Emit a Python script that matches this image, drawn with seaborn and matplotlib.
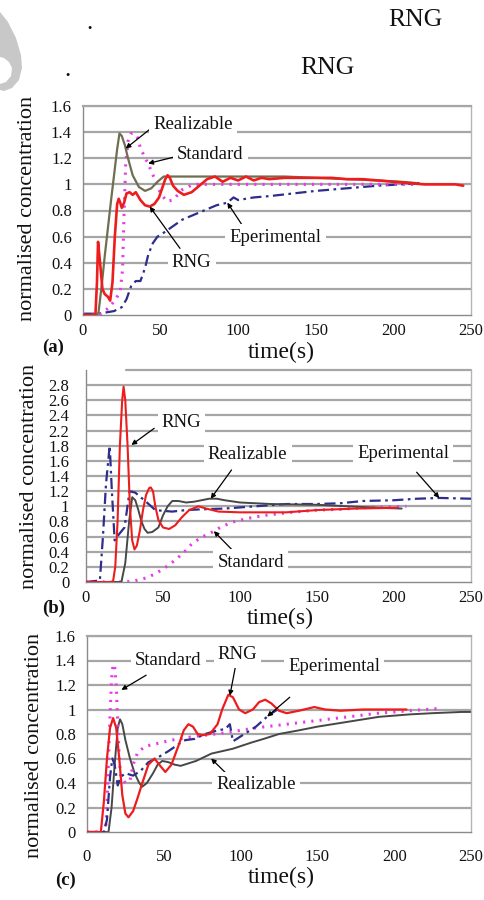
import numpy as np
import matplotlib
matplotlib.use("Agg")
import matplotlib.pyplot as plt
import seaborn as sns
from matplotlib.patches import Polygon

# ---------------------------------------------------------------- data
# (a) normalised concentration vs time (s)
a_rng_t = [0, 8, 9, 9.7, 11, 12.5, 14, 16, 17.5, 19, 20.5, 22, 23, 24, 25, 26.5, 28, 30, 32, 34,
           37, 40, 43, 46, 49, 51, 53, 54.5, 56, 58, 61, 65, 70, 75, 80, 85, 90, 95, 100, 105,
           110, 115, 120, 130, 140, 150, 160, 170, 180, 190, 200, 210, 220, 230, 240, 245]
a_rng_v = [0, 0, 0.25, 0.56, 0.4, 0.2, 0.16, 0.14, 0.11, 0.25, 0.6, 0.85, 0.89, 0.86, 0.82, 0.86, 0.93, 0.94, 0.92, 0.94,
           0.88, 0.84, 0.83, 0.85, 0.9, 0.97, 1.04, 1.07, 1.05, 0.99, 0.95, 0.92, 0.94, 0.99, 1.04, 1.06, 1.02, 1.05, 1.03, 1.06,
           1.03, 1.05, 1.04, 1.05, 1.05, 1.05, 1.05, 1.04, 1.04, 1.03, 1.02, 1.01, 1.0, 1.0, 1.0, 0.99]
a_real_t = [0, 9, 10, 12, 14, 16, 18, 20, 22, 23.5, 25, 27, 29, 32, 36, 40, 44, 48, 52, 56,
            70, 100, 130, 150, 170, 190, 205, 215]
a_real_v = [0, 0, 0.02, 0.22, 0.45, 0.66, 0.87, 1.07, 1.27, 1.39, 1.37, 1.3, 1.2, 1.07, 0.98, 0.95, 0.97, 1.02, 1.06, 1.06,
            1.06, 1.06, 1.06, 1.05, 1.04, 1.03, 1.02, 1.01]
a_std_t = [0, 10, 13, 17, 21, 24, 25.5, 26.5, 27.5, 29, 31, 33, 35, 37, 40, 42, 44, 47, 50, 54,
           58, 64, 71, 100, 150, 200, 215]
a_std_v = [0, 0, 0.02, 0.06, 0.12, 0.18, 0.35, 0.8, 1.15, 1.33, 1.39, 1.39, 1.36, 1.28, 1.2, 1.16, 1.1, 1.02, 0.93, 0.87,
           0.88, 0.96, 1.0, 1.0, 1.0, 1.0, 1.0]
a_exp_t = [0, 10, 15, 20, 25, 28, 31, 34, 37, 40, 42, 45, 48, 52, 58, 64, 70, 78, 86, 93,
           95, 97, 100, 110, 120, 135, 150, 170, 190, 205, 218]
a_exp_v = [0.01, 0.01, 0.02, 0.03, 0.06, 0.12, 0.22, 0.26, 0.26, 0.36, 0.46, 0.55, 0.6, 0.63, 0.68, 0.73, 0.76, 0.8, 0.84, 0.86,
           0.88, 0.9, 0.88, 0.9, 0.91, 0.93, 0.95, 0.97, 0.99, 1.0, 1.01]

# (b)
b_rng_t = [0, 17.5, 19, 20.5, 22, 23.5, 24.4, 25.5, 27, 28.5, 30, 31.5, 33, 35, 37, 39, 41, 42, 43.5, 45,
           47, 50, 54, 58, 62, 67, 73, 78, 86, 100, 115, 130, 150, 175, 202]
b_rng_v = [0, 0, 0.2, 0.8, 1.8, 2.6, 2.78, 2.6, 1.8, 1.0, 0.55, 0.43, 0.48, 0.68, 0.95, 1.15, 1.24, 1.25, 1.2, 1.0,
           0.82, 0.72, 0.7, 0.75, 0.85, 0.95, 1.0, 0.97, 0.93, 0.92, 0.92, 0.92, 0.95, 0.97, 0.98]
b_real_t = [0, 23, 25.5, 28, 30, 32, 34, 36, 38, 40, 43, 47, 50, 53, 56, 60, 65, 70, 75, 80,
            85, 90, 100, 120, 150, 170, 190, 205]
b_real_v = [0, 0, 0.25, 0.8, 1.12, 1.08, 0.95, 0.8, 0.7, 0.65, 0.66, 0.72, 0.88, 1.0, 1.07, 1.07, 1.05, 1.06, 1.08, 1.1,
            1.1, 1.08, 1.05, 1.03, 1.02, 1.0, 0.98, 0.97]
b_std_t = [0, 25, 30, 35, 40, 45, 50, 58, 64, 69, 75, 82, 88, 95, 105, 116, 133, 150, 165, 180, 195, 208]
b_std_v = [0, 0, 0.01, 0.03, 0.06, 0.11, 0.17, 0.29, 0.4, 0.51, 0.59, 0.66, 0.73, 0.79, 0.84, 0.88, 0.92, 0.95, 0.96, 0.98,
           0.99, 1.0]
b_exp_t = [0, 9, 11, 13, 15.4, 16.8, 18.6, 21, 25, 28.3, 32, 39, 45, 50, 56, 65, 75, 90, 110, 130,
           150, 165, 180, 200, 215, 230, 250]
b_exp_v = [0, 0.02, 0.6, 1.3, 1.8, 1.2, 0.55, 0.62, 0.72, 1.2, 1.18, 1.06, 0.95, 0.94, 0.93, 0.95, 0.96, 0.97, 1.0, 1.03,
           1.03, 1.04, 1.07, 1.08, 1.1, 1.11, 1.1]

# (c)
c_rng_t = [0, 9, 11, 13, 15, 17, 19, 21, 23, 25, 27, 30, 33, 36, 40, 44, 47, 51, 55, 60,
           63, 66, 69, 72, 75, 80, 85, 88, 92, 95, 99, 103, 108, 112, 116, 120, 125, 130, 138, 148,
           155, 165, 180, 195, 208]
c_rng_v = [0, 0, 0.25, 0.6, 0.85, 0.93, 0.85, 0.6, 0.3, 0.15, 0.12, 0.17, 0.28, 0.4, 0.55, 0.6, 0.55, 0.49, 0.55, 0.72,
           0.83, 0.88, 0.86, 0.8, 0.79, 0.8, 0.88, 1.0, 1.12, 1.1, 1.0, 0.97, 1.0, 1.06, 1.08, 1.05, 0.99, 0.97, 0.99, 1.02,
           1.0, 0.99, 1.0, 1.0, 1.0]
c_real_t = [0, 14, 16, 18, 20, 21.5, 23, 25, 28, 31, 34, 36, 39, 43, 46, 49, 53, 57, 61, 66,
            71, 76, 81, 88, 95, 107, 115, 125, 138, 150, 160, 170, 180, 190, 200, 210, 225, 244, 250]
c_real_v = [0, 0, 0.2, 0.55, 0.85, 0.92, 0.88, 0.75, 0.6, 0.48, 0.4, 0.37, 0.4, 0.48, 0.55, 0.58, 0.57, 0.55, 0.54, 0.56,
            0.58, 0.61, 0.64, 0.66, 0.68, 0.73, 0.76, 0.8, 0.83, 0.86, 0.88, 0.9, 0.92, 0.94, 0.95, 0.96, 0.97, 0.98, 0.98]
c_std_t = [0, 12, 13, 14, 15, 16, 17, 18, 19, 20, 21, 22, 25, 28, 30, 33, 38, 45, 55, 70,
           90, 110, 130, 150, 170, 190, 210, 231]
c_std_v = [0, 0, 0.2, 0.6, 0.95, 1.25, 1.37, 1.35, 1.2, 0.9, 0.6, 0.45, 0.4, 0.42, 0.55, 0.65, 0.7, 0.72, 0.75, 0.78,
           0.81, 0.85, 0.88, 0.91, 0.94, 0.97, 0.99, 1.01]
c_exp_t = [0, 11, 13, 15, 16.5, 18, 20, 22, 25, 30, 35, 40, 45, 53, 60, 64, 70, 77, 85, 90,
           93, 95, 100, 110, 118, 124]
c_exp_v = [0, 0, 0.1, 0.45, 0.6, 0.55, 0.38, 0.45, 0.48, 0.46, 0.5, 0.57, 0.6, 0.66, 0.72, 0.75, 0.76, 0.8, 0.83, 0.84,
           0.88, 0.74, 0.78, 0.86, 0.95, 1.0]

x_ticks = [0, 50, 100, 150, 200, 250]
y_ticks_ac = [0, 0.2, 0.4, 0.6, 0.8, 1.0, 1.2, 1.4, 1.6]
y_labels_ac = ['0', '0.2', '0.4', '0.6', '0.8', '1', '1.2', '1.4', '1.6']
y_ticks_b = [0, 0.2, 0.4, 0.6, 0.8, 1.0, 1.2, 1.4, 1.6, 1.8, 2.2, 2.4, 2.6, 2.8]
y_labels_b = ['0', '0.2', '0.4', '0.6', '0.8', '1', '1.2', '1.4', '1.6', '1.8', '2.2', '2.4', '2.6', '2.8']

# ---------------------------------------------------------------- styling
sns.set_theme(style="white")
plt.rcParams['font.family'] = ['Liberation Serif', 'DejaVu Serif']

RED = '#ee1d1d'
OLIVE = '#6e6e50'
DARK = '#474747'
MAGENTA = '#e63ce6'
NAVY = '#2d2d8c'
GRID = '#a6a6a6'
DOTS = (0, (0.7, 2.0))
DASHDOT = (0, (5, 2, 1.2, 2))

W, H = 485, 900
fig = plt.figure(figsize=(W / 100, H / 100), dpi=100)


def box(left, right, top, bottom):
    return [left / W, 1 - bottom / H, (right - left) / W, (bottom - top) / H]


def curve(ax, t, v, color, ls, lw, z):
    sns.lineplot(x=t, y=v, ax=ax, color=color, linestyle=ls, linewidth=lw,
                 estimator=None, sort=False, legend=False, zorder=z)


def at(t, v, x):
    return (x, float(np.interp(x, t, v)))


def tag(ax, text, pos, tail, head):
    ax.annotate('', xy=head, xytext=tail,
                arrowprops=dict(arrowstyle='-|>', color='black', lw=0.9,
                                mutation_scale=7, shrinkA=0, shrinkB=0), zorder=6)
    ax.text(pos[0], pos[1], text, ha='center', va='center', fontsize=13.5,
            color='#111111', zorder=7,
            bbox=dict(fc='white', ec='none', pad=3))


def frame(ax, yticks, ylabels, xpad, ypad):
    ax.set_xlim(0, 250)
    ax.set_xticks(x_ticks)
    ax.set_xticklabels([str(x) for x in x_ticks])
    ax.set_yticks(yticks)
    ax.set_yticklabels(ylabels)
    ax.grid(False)
    for y in yticks[1:]:
        ax.axhline(y, color=GRID, lw=1.6, zorder=0.5)
    ax.tick_params(axis='both', which='both', direction='out', length=3,
                   width=0.8, color='#808080', labelsize=12, labelcolor='#111111')
    ax.tick_params(axis='x', pad=xpad)
    ax.tick_params(axis='y', pad=ypad)
    for side in ('left', 'bottom'):
        ax.spines[side].set_color('#8a8a8a')
        ax.spines[side].set_linewidth(1.0)
    ax.spines['right'].set_color('#b5b5b5')
    ax.spines['right'].set_linewidth(1.0)
    ax.spines['top'].set_color(GRID)
    ax.spines['top'].set_linewidth(1.6)
    ax.set_xlabel('')
    ax.set_ylabel('')


def axis_titles(ax, ylab_xy, xlab_xy):
    ax.text(ylab_xy[0], ylab_xy[1], 'normalised concentration', transform=ax.transAxes,
            rotation=90, ha='center', va='center', fontsize=16, color='#111111')
    ax.text(xlab_xy[0], xlab_xy[1], 'time(s)', transform=ax.transAxes,
            ha='center', va='center', fontsize=17, color='#111111')


# ---------------------------------------------------------------- panel (a)
ax_a = fig.add_axes(box(83, 471, 106, 315))
curve(ax_a, a_exp_t, a_exp_v, NAVY, DASHDOT, 1.6, 2)
curve(ax_a, a_std_t, a_std_v, MAGENTA, DOTS, 2.2, 3)
curve(ax_a, a_real_t, a_real_v, OLIVE, '-', 1.6, 4)
curve(ax_a, a_rng_t, a_rng_v, RED, '-', 1.9, 5)
ax_a.set_ylim(0, 1.6)
frame(ax_a, y_ticks_ac, y_labels_ac, 3, 5)
axis_titles(ax_a, (-0.142, 0.51), (0.51, -0.178))
tag(ax_a, 'Realizable', (71, 1.455), (45, 1.44), at(a_real_t, a_real_v, 27.5))
tag(ax_a, 'Standard', (82, 1.225), (59, 1.21), at(a_std_t, a_std_v, 42))
tag(ax_a, 'Eperimental', (124, 0.597), (103, 0.68), at(a_exp_t, a_exp_v, 93))
tag(ax_a, 'RNG', (70, 0.40), (62.5, 0.51), at(a_rng_t, a_rng_v, 43))

# ---------------------------------------------------------------- panel (b)
ax_b = fig.add_axes(box(86, 471, 370, 582))
curve(ax_b, b_std_t, b_std_v, MAGENTA, DOTS, 2.2, 2)
curve(ax_b, b_exp_t, b_exp_v, NAVY, DASHDOT, 1.6, 3)
curve(ax_b, b_real_t, b_real_v, DARK, '-', 1.4, 4)
curve(ax_b, b_rng_t, b_rng_v, RED, '-', 1.5, 5)

# the value axis skips 2.0, so every labelled step gets the same height
knots = np.array(y_ticks_b + [3.0])
steps = np.arange(len(knots), dtype=float)
ax_b.set_yscale('function', functions=(lambda v: np.interp(v, knots, steps),
                                        lambda p: np.interp(p, steps, knots)))
ax_b.set_ylim(0, 3.0)
frame(ax_b, y_ticks_b, y_labels_b, 3, 9)
ax_b.spines['top'].set_visible(False)
ax_b.axhline(3.0, xmin=0.105, xmax=1, color=GRID, lw=1.6, clip_on=False, zorder=0.5)
axis_titles(ax_b, (-0.148, 0.50), (0.505, -0.17))
tag(ax_b, 'RNG', (62, 2.31), (44.3, 2.23), (29.5, 1.82))
tag(ax_b, 'Realizable', (105, 1.68), (94.5, 1.48), at(b_real_t, b_real_v, 81))
tag(ax_b, 'Eperimental', (206, 1.70), (214.7, 1.45), at(b_exp_t, b_exp_v, 229.4))
tag(ax_b, 'Standard', (107, 0.264), (97, 0.38), at(b_std_t, b_std_v, 83))

# ---------------------------------------------------------------- panel (c)
ax_c = fig.add_axes(box(87, 471, 636, 832))
curve(ax_c, c_real_t, c_real_v, DARK, '-', 1.4, 2)
curve(ax_c, c_std_t, c_std_v, MAGENTA, DOTS, 2.2, 3)
curve(ax_c, c_exp_t, c_exp_v, NAVY, DASHDOT, 1.6, 4)
curve(ax_c, c_rng_t, c_rng_v, RED, '-', 1.6, 5)
ax_c.set_ylim(0, 1.6)
frame(ax_c, y_ticks_ac, y_labels_ac, 9, 5)
axis_titles(ax_c, (-0.138, 0.444), (0.505, -0.23))
tag(ax_c, 'Standard', (53, 1.404), (38.5, 1.28), (22.4, 1.16))
tag(ax_c, 'RNG', (98, 1.445), (96.8, 1.36), at(c_rng_t, c_rng_v, 93))
tag(ax_c, 'Eperimental', (161, 1.35), (132, 1.10), at(c_exp_t, c_exp_v, 117.3))
tag(ax_c, 'Realizable', (110, 0.384), (91.7, 0.465), (80.8, 0.60))

# ---------------------------------------------------------------- panel letters
for letter, (px, py) in {'(a)': (53, 347), '(b)': (54, 608), '(c)': (66, 880)}.items():
    fig.text(px / W, 1 - py / H, letter, ha='center', va='center',
             fontsize=13.5, fontweight='bold', color='#111111')

# ---------------------------------------------------------------- header lines
fig.text(90 / W, 1 - 29 / H, '.', ha='center', va='baseline', fontsize=18, color='#111111')
fig.text(415 / W, 1 - 20 / H, 'RNG', ha='center', va='center', fontsize=18.5, color='#111111')
fig.text(67 / W, 1 - 76 / H, '.', ha='center', va='baseline', fontsize=18, color='#111111')
fig.text(327 / W, 1 - 68 / H, 'RNG', ha='center', va='center', fontsize=18.5, color='#111111')

# faint emblem in the top-left corner
emblem = [(0, 12), (8, 22), (16, 38), (21, 55), (22, 68), (19, 80), (12, 88), (4, 91), (0, 90),
          (0, 84), (6, 82), (11, 76), (12, 68), (9, 62), (4, 58), (0, 57)]
fig.add_artist(Polygon([(x / W, 1 - y / H) for x, y in emblem], closed=True,
                       transform=fig.transFigure, fc='#c8c8c8', ec='none'))

fig.savefig('out.png', dpi=100, facecolor='white')
